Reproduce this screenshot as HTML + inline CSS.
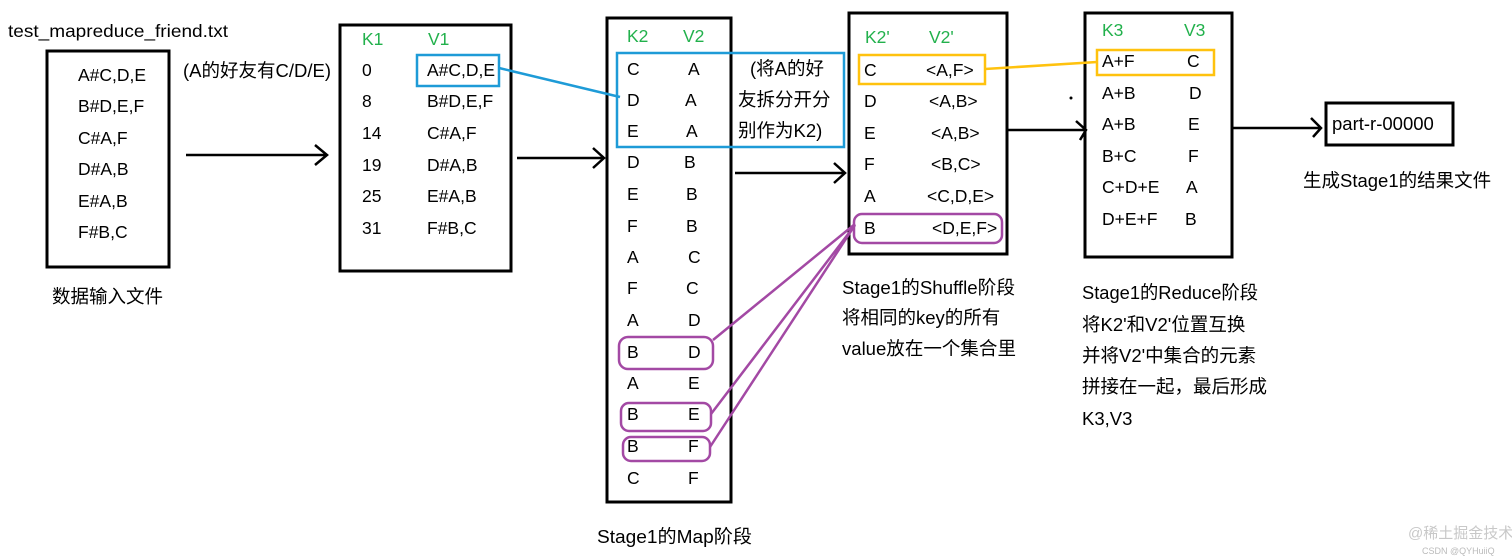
<!DOCTYPE html>
<html><head><meta charset="utf-8"><style>
html,body{margin:0;padding:0;background:#fff;}
svg{display:block;}
text{font-family:"Liberation Sans","Noto Sans CJK SC",sans-serif;font-size:17.5px;fill:#000;}
.g{fill:#22b14c;}
.c{font-size:18.5px;}
</style></head><body>
<svg width="1512" height="559" viewBox="0 0 1512 559" xmlns="http://www.w3.org/2000/svg">
<g fill="none" stroke="#000" stroke-width="3">
<rect x="47" y="51" width="122" height="216"/>
<rect x="340" y="25" width="171" height="246"/>
<rect x="607" y="18" width="124" height="484"/>
<rect x="849" y="13" width="158" height="241"/>
<rect x="1085" y="13" width="147" height="244"/>
<rect x="1326" y="103" width="127" height="42"/>
</g>
<g fill="none" stroke="#000" stroke-width="2.5">
<path d="M186 155H327M315 145L327 155L315 165"/>
<path d="M517 158H604M593 148L604 158L593 168"/>
<path d="M735 173H845M834 163L845 173L834 183"/>
<path d="M1008 130H1086M1076 121L1086 130L1080 140"/>
<path d="M1233 128H1321M1311 118L1321 128L1313 137"/>
</g>
<circle cx="1071" cy="98" r="1.5" fill="#000"/>
<g fill="none" stroke="#1e9bd7" stroke-width="2.5">
<rect x="417" y="55" width="82" height="31"/>
<path d="M499 68L620 97"/>
<rect x="617" y="53" width="227" height="94"/>
</g>
<g fill="none" stroke="#ffc20e" stroke-width="2.5">
<rect x="859" y="55" width="126" height="29"/>
<path d="M985 69L1097 62"/>
<rect x="1097" y="50" width="117" height="25"/>
</g>
<g fill="none" stroke="#a349a4" stroke-width="2.5">
<rect x="854" y="214" width="148" height="29" rx="8"/>
<rect x="619" y="337" width="94" height="32" rx="9"/>
<rect x="621" y="403" width="90" height="28" rx="8"/>
<rect x="623" y="437" width="87" height="24" rx="8"/>
<path d="M713 340L855 224M711 414L855 225M710 447L855 225"/>
</g>
<text x="8" y="37" textLength="220" lengthAdjust="spacingAndGlyphs">test_mapreduce_friend.txt</text>
<g>
<text x="78" y="81">A#C,D,E</text>
<text x="78" y="112">B#D,E,F</text>
<text x="78" y="144">C#A,F</text>
<text x="78" y="175">D#A,B</text>
<text x="78" y="207">E#A,B</text>
<text x="78" y="238">F#B,C</text>
</g>
<text x="52" y="303" class="c">数据输入文件</text>
<text x="183" y="77" class="c">(A的好友有C/D/E)</text>
<text x="362" y="45" class="g">K1</text><text x="428" y="45" class="g">V1</text>
<g>
<text x="362" y="76">0</text><text x="427" y="76">A#C,D,E</text>
<text x="362" y="107">8</text><text x="427" y="107">B#D,E,F</text>
<text x="362" y="139">14</text><text x="427" y="139">C#A,F</text>
<text x="362" y="171">19</text><text x="427" y="171">D#A,B</text>
<text x="362" y="202">25</text><text x="427" y="202">E#A,B</text>
<text x="362" y="234">31</text><text x="427" y="234">F#B,C</text>
</g>
<text x="627" y="42" class="g">K2</text><text x="683" y="42" class="g">V2</text>
<g>
<text x="627" y="75">C</text><text x="688" y="75">A</text>
<text x="627" y="106">D</text><text x="685" y="106">A</text>
<text x="627" y="137">E</text><text x="686" y="137">A</text>
<text x="627" y="168">D</text><text x="684" y="168">B</text>
<text x="627" y="200">E</text><text x="686" y="200">B</text>
<text x="627" y="232">F</text><text x="686" y="232">B</text>
<text x="627" y="263">A</text><text x="688" y="263">C</text>
<text x="627" y="294">F</text><text x="686" y="294">C</text>
<text x="627" y="326">A</text><text x="688" y="326">D</text>
<text x="627" y="358">B</text><text x="688" y="358">D</text>
<text x="627" y="389">A</text><text x="688" y="389">E</text>
<text x="627" y="420">B</text><text x="688" y="420">E</text>
<text x="627" y="452">B</text><text x="688" y="452">F</text>
<text x="627" y="484">C</text><text x="688" y="484">F</text>
</g>
<text x="750" y="75" class="c">(将A的好</text>
<text x="738" y="106" class="c">友拆分开分</text>
<text x="738" y="137" class="c">别作为K2)</text>
<text x="597" y="543" class="c" textLength="155" lengthAdjust="spacingAndGlyphs">Stage1的Map阶段</text>
<text x="865" y="43" class="g">K2'</text><text x="929" y="43" class="g">V2'</text>
<g>
<text x="864" y="76">C</text><text x="926" y="76">&lt;A,F&gt;</text>
<text x="864" y="107">D</text><text x="929" y="107">&lt;A,B&gt;</text>
<text x="864" y="139">E</text><text x="931" y="139">&lt;A,B&gt;</text>
<text x="864" y="170">F</text><text x="931" y="170">&lt;B,C&gt;</text>
<text x="864" y="202">A</text><text x="927" y="202">&lt;C,D,E&gt;</text>
<text x="864" y="234">B</text><text x="932" y="234">&lt;D,E,F&gt;</text>
</g>
<text x="842" y="294" class="c" textLength="173" lengthAdjust="spacingAndGlyphs">Stage1的Shuffle阶段</text>
<text x="842" y="324" class="c">将相同的key的所有</text>
<text x="842" y="355" class="c" textLength="174" lengthAdjust="spacingAndGlyphs">value放在一个集合里</text>
<text x="1102" y="36" class="g">K3</text><text x="1184" y="36" class="g">V3</text>
<g>
<text x="1102" y="67">A+F</text><text x="1187" y="67">C</text>
<text x="1102" y="99">A+B</text><text x="1189" y="99">D</text>
<text x="1102" y="130">A+B</text><text x="1188" y="130">E</text>
<text x="1102" y="162">B+C</text><text x="1188" y="162">F</text>
<text x="1102" y="193">C+D+E</text><text x="1186" y="193">A</text>
<text x="1102" y="225">D+E+F</text><text x="1185" y="225">B</text>
</g>
<text x="1082" y="299" class="c" textLength="176" lengthAdjust="spacingAndGlyphs">Stage1的Reduce阶段</text>
<text x="1082" y="331" class="c">将K2'和V2'位置互换</text>
<text x="1082" y="362" class="c">并将V2'中集合的元素</text>
<text x="1082" y="393" class="c">拼接在一起，最后形成</text>
<text x="1082" y="425" class="c">K3,V3</text>
<text x="1332" y="130" class="c">part-r-00000</text>
<text x="1303" y="187" class="c">生成Stage1的结果文件</text>
<text x="1408" y="538" style="font-size:15px;fill:#c8c8c8">@稀土掘金技术社区</text>
<text x="1422" y="554" style="font-size:9px;fill:#bbb">CSDN @QYHuiiQ</text>
</svg>
</body></html>
